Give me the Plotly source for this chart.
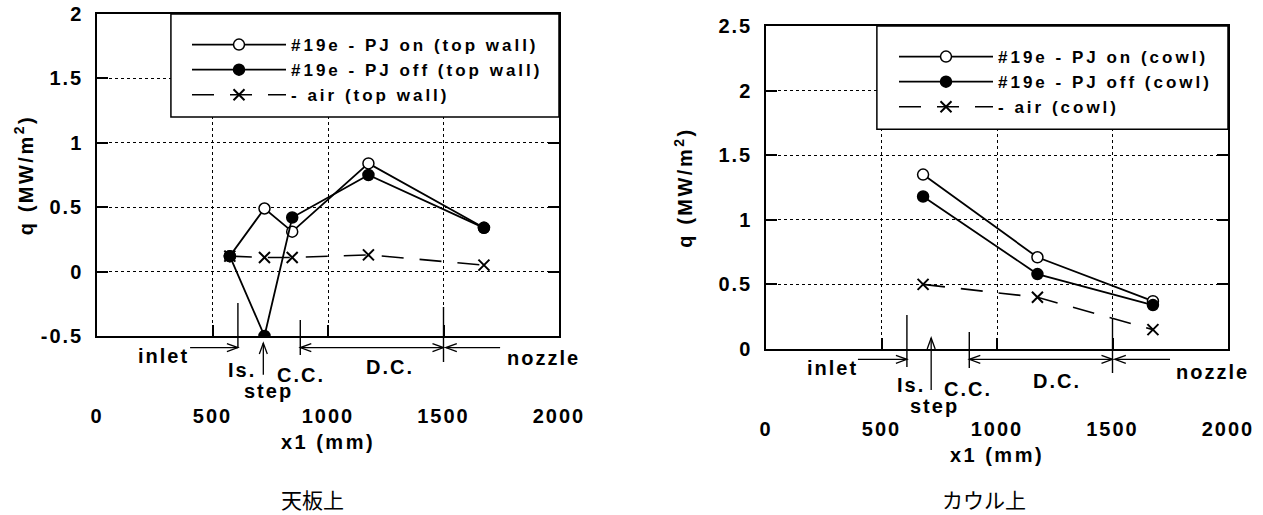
import plotly.graph_objects as go

# ---- heat-flux measurements: x1 position (mm) and q (MW/m^2) ----
top_x = [575, 725, 845, 1175, 1675]
top_pj_on = [0.12, 0.49, 0.31, 0.84, 0.34]
top_pj_off = [0.12, -0.50, 0.42, 0.75, 0.34]
top_air = [0.12, 0.11, 0.11, 0.13, 0.05]

cowl_x = [680, 1175, 1675]
cowl_pj_on = [1.35, 0.71, 0.37]
cowl_pj_off = [1.18, 0.58, 0.34]
cowl_air = [0.50, 0.40, 0.15]

# ---- axis ticks ----
x_ticks = [0, 500, 1000, 1500, 2000]
x_ticktext = ["0", "500", "1000", "1500", "2000"]
top_yticks = [-0.5, 0, 0.5, 1, 1.5, 2]
top_yticktext = ["-0.5", "0", "0.5", "1", "1.5", "2"]
cowl_yticks = [0, 0.5, 1, 1.5, 2, 2.5]
cowl_yticktext = ["0", "0.5", "1", "1.5", "2", "2.5"]

# ---- duct sections along x1 (mm) ----
inlet_end, step_x, cc_start, dc_end = 610, 720, 880, 1500

W, H = 1263, 515
FONT = "Liberation Sans, Arial, Helvetica, sans-serif"
CJK = "Noto Sans CJK JP, sans-serif"


def tracked(text, px=2.5):
    """Wide letter tracking, as in the typeset figure."""
    return f'<span style="letter-spacing:{px}px">{text}</span>'


def frac(q, rng):
    return (q - rng[0]) / (rng[1] - rng[0])


fig = go.Figure()


def add_series(xa, ya, lg, x, on, off, air, where, square_first):
    fig.add_trace(go.Scatter(
        x=x, y=air, xaxis=xa, yaxis=ya, legend=lg, legendrank=3,
        name=tracked(f"- air ({where})", 3), mode="lines+markers",
        line=dict(color="black", width=1.6, dash="22px,16px"),
        marker=dict(symbol="x-thin-open", size=11,
                    line=dict(color="black", width=2))))
    fig.add_trace(go.Scatter(
        x=x, y=on, xaxis=xa, yaxis=ya, legend=lg, legendrank=1,
        name=tracked(f"#19e - PJ on ({where})", 3), mode="lines+markers",
        line=dict(color="black", width=1.8),
        marker=dict(symbol="circle", size=11, color="white",
                    line=dict(color="black", width=1.5))))
    fig.add_trace(go.Scatter(
        x=x, y=off, xaxis=xa, yaxis=ya, legend=lg, legendrank=2,
        name=tracked(f"#19e - PJ off ({where})", 3), mode="lines+markers",
        line=dict(color="black", width=1.8),
        marker=dict(symbol="circle", size=11, color="black",
                    line=dict(color="black", width=1.5))))
    if square_first:
        fig.add_trace(go.Scatter(
            x=x[:1], y=off[:1], xaxis=xa, yaxis=ya, showlegend=False,
            mode="markers",
            marker=dict(symbol="square", size=10, color="black")))


add_series("x", "y", "legend", top_x, top_pj_on, top_pj_off, top_air,
           "top wall", True)
add_series("x2", "y2", "legend2", cowl_x, cowl_pj_on, cowl_pj_off, cowl_air,
           "cowl", False)

tick_font = dict(family=FONT, size=20, color="black", weight="bold")


def xaxis(dom, anchor):
    return dict(
        domain=dom, anchor=anchor, range=[0, 2000],
        tickvals=x_ticks, ticktext=[tracked(t, 2) for t in x_ticktext],
        ticks="inside", ticklen=11, tickwidth=1.5, tickcolor="black",
        showline=True, linecolor="black", linewidth=1.5, mirror="ticks",
        showgrid=True, gridcolor="black", gridwidth=1, griddash="dot",
        zeroline=False, ticklabelstandoff=61, tickfont=tick_font,
        title=dict(text=tracked("x1 (mm)"), font=tick_font, standoff=9))


def yaxis(dom, anchor, rng, vals, text, standoff):
    return dict(
        domain=dom, anchor=anchor, range=rng,
        tickvals=vals, ticktext=[tracked(t, 2) for t in text],
        ticks="inside", ticklen=11, tickwidth=1.5, tickcolor="black",
        showline=True, linecolor="black", linewidth=1.5, mirror="ticks",
        showgrid=True, gridcolor="black", gridwidth=1, griddash="dot",
        zeroline=False, ticklabelstandoff=8, tickfont=tick_font,
        title=dict(text=tracked("q (MW/m<sup>2</sup>)"), font=tick_font,
                   standoff=standoff))


top_yr = [-0.5, 2]
cowl_yr = [0, 2.5]

legend_font = dict(family=FONT, size=17, color="black", weight="bold")
legend_common = dict(bgcolor="rgba(0,0,0,0)", borderwidth=0, font=legend_font,
                     itemwidth=94, xanchor="left", yanchor="top",
                     traceorder="normal", itemclick=False)

fig.update_layout(
    width=W, height=H,
    margin=dict(l=0, r=0, t=0, b=0, autoexpand=False),
    paper_bgcolor="white", plot_bgcolor="white",
    xaxis=xaxis([97 / W, 559 / W], "y"),
    yaxis=yaxis([1 - 336 / H, 1 - 14 / H], "x", top_yr, top_yticks,
                top_yticktext, 2),
    xaxis2=xaxis([766 / W, 1228 / W], "y2"),
    yaxis2=yaxis([1 - 349 / H, 1 - 26 / H], "x2", cowl_yr, cowl_yticks,
                 cowl_yticktext, 20),
    legend=dict(x=187 / W, y=1 - 27 / H, **legend_common),
    legend2=dict(x=894 / W, y=1 - 39 / H, **legend_common),
    showlegend=True,
)

# white framed boxes behind each legend
fig.add_shape(type="rect", xref="x", yref="y", x0=320, x1=2000, y0=1.2, y1=2.0,
              fillcolor="white", line=dict(color="black", width=1.5),
              layer="above")
fig.add_shape(type="rect", xref="x2", yref="y2", x0=480, x1=2000, y0=1.7,
              y1=2.5, fillcolor="white", line=dict(color="black", width=1.5),
              layer="above")

label_font = dict(family=FONT, size=20, color="black", weight="bold")
stroke = dict(color="black", width=1.3)

# open arrowheads, drawn in pixels around the tip
HEADS = {
    "right": "M-11,4L0,0L-11,-4",
    "left": "M11,4L0,0L11,-4",
    "up": "M-4,-11L0,0L4,-11",
}


def arrow(xa, yd, x0, y0, x1, y1, heads):
    """Shaft from (x0, y0) to (x1, y1); heads = list of (x, y, direction)."""
    fig.add_shape(type="line", xref=xa, yref=yd, x0=x0, x1=x1, y0=y0, y1=y1,
                  line=stroke)
    for hx, hy, d in heads:
        fig.add_shape(type="path", xref=xa, yref=yd, xsizemode="pixel",
                      ysizemode="pixel", xanchor=hx, yanchor=hy,
                      path=HEADS[d], line=stroke)


def duct_sections(xa, ya, rng, vlines, arrow_y, inlet_tail, nozzle_tail,
                  step_at, step_tail, step_tip, labels):
    yd = ya + " domain"
    for xv, y0, y1 in vlines:
        fig.add_shape(type="line", xref=xa, yref=yd, x0=xv, x1=xv,
                      y0=frac(y0, rng), y1=frac(y1, rng),
                      line=dict(color="black", width=1.4))
    ay = frac(arrow_y, rng)
    # inlet -> isolator
    arrow(xa, yd, inlet_tail, ay, inlet_end, ay,
          [(inlet_end, ay, "right")])
    # combustor (D.C.) span, both ends
    arrow(xa, yd, cc_start, ay, dc_end, ay,
          [(cc_start, ay, "left"), (dc_end, ay, "right")])
    # nozzle, pointing back to the combustor exit
    arrow(xa, yd, dc_end + 10, ay, nozzle_tail, ay,
          [(dc_end + 10, ay, "left")])
    # step marker
    tip = frac(step_tip, rng)
    arrow(xa, yd, step_at, frac(step_tail, rng), step_at, tip,
          [(step_at, tip, "up")])
    for txt, xv, yv in labels:
        fig.add_annotation(text=tracked(txt, 2), x=xv, y=frac(yv, rng),
                           xref=xa, yref=yd, showarrow=False,
                           font=label_font, xanchor="center",
                           yanchor="middle")


duct_sections(
    "x", "y", top_yr,
    vlines=[(inlet_end, -0.244, -0.593), (cc_start, -0.376, -0.648),
            (dc_end, -0.275, -0.702)],
    arrow_y=-0.59, inlet_tail=403, nozzle_tail=1745,
    step_at=step_x, step_tail=-0.80, step_tip=-0.555,
    labels=[("inlet", 286, -0.655), ("Is.", 628, -0.764),
            ("step", 742, -0.925), ("C.C.", 882, -0.80),
            ("D.C.", 1268, -0.74), ("nozzle", 1931, -0.671)])

duct_sections(
    "x2", "y2", cowl_yr,
    vlines=[(inlet_end, 0.263, -0.139), (cc_start, 0.132, -0.147),
            (dc_end, 0.24, -0.186)],
    arrow_y=-0.08, inlet_tail=398, nozzle_tail=1749,
    step_at=step_x - 5, step_tail=-0.317, step_tip=0.085,
    labels=[("inlet", 290, -0.147), ("Is.", 628, -0.279),
            ("step", 730, -0.445), ("C.C.", 876, -0.31),
            ("D.C.", 1260, -0.248), ("nozzle", 1935, -0.178)])

# panel captions
cap_font = dict(family=CJK, size=21, color="black")
fig.add_annotation(text="天板上", xref="paper", yref="paper", x=312 / W,
                   y=1 - 498.5 / H, showarrow=False, font=cap_font,
                   xanchor="center", yanchor="middle")
fig.add_annotation(text="カウル上", xref="paper", yref="paper", x=984 / W,
                   y=1 - 498.5 / H, showarrow=False, font=cap_font,
                   xanchor="center", yanchor="middle")

fig.write_html("out.html")
